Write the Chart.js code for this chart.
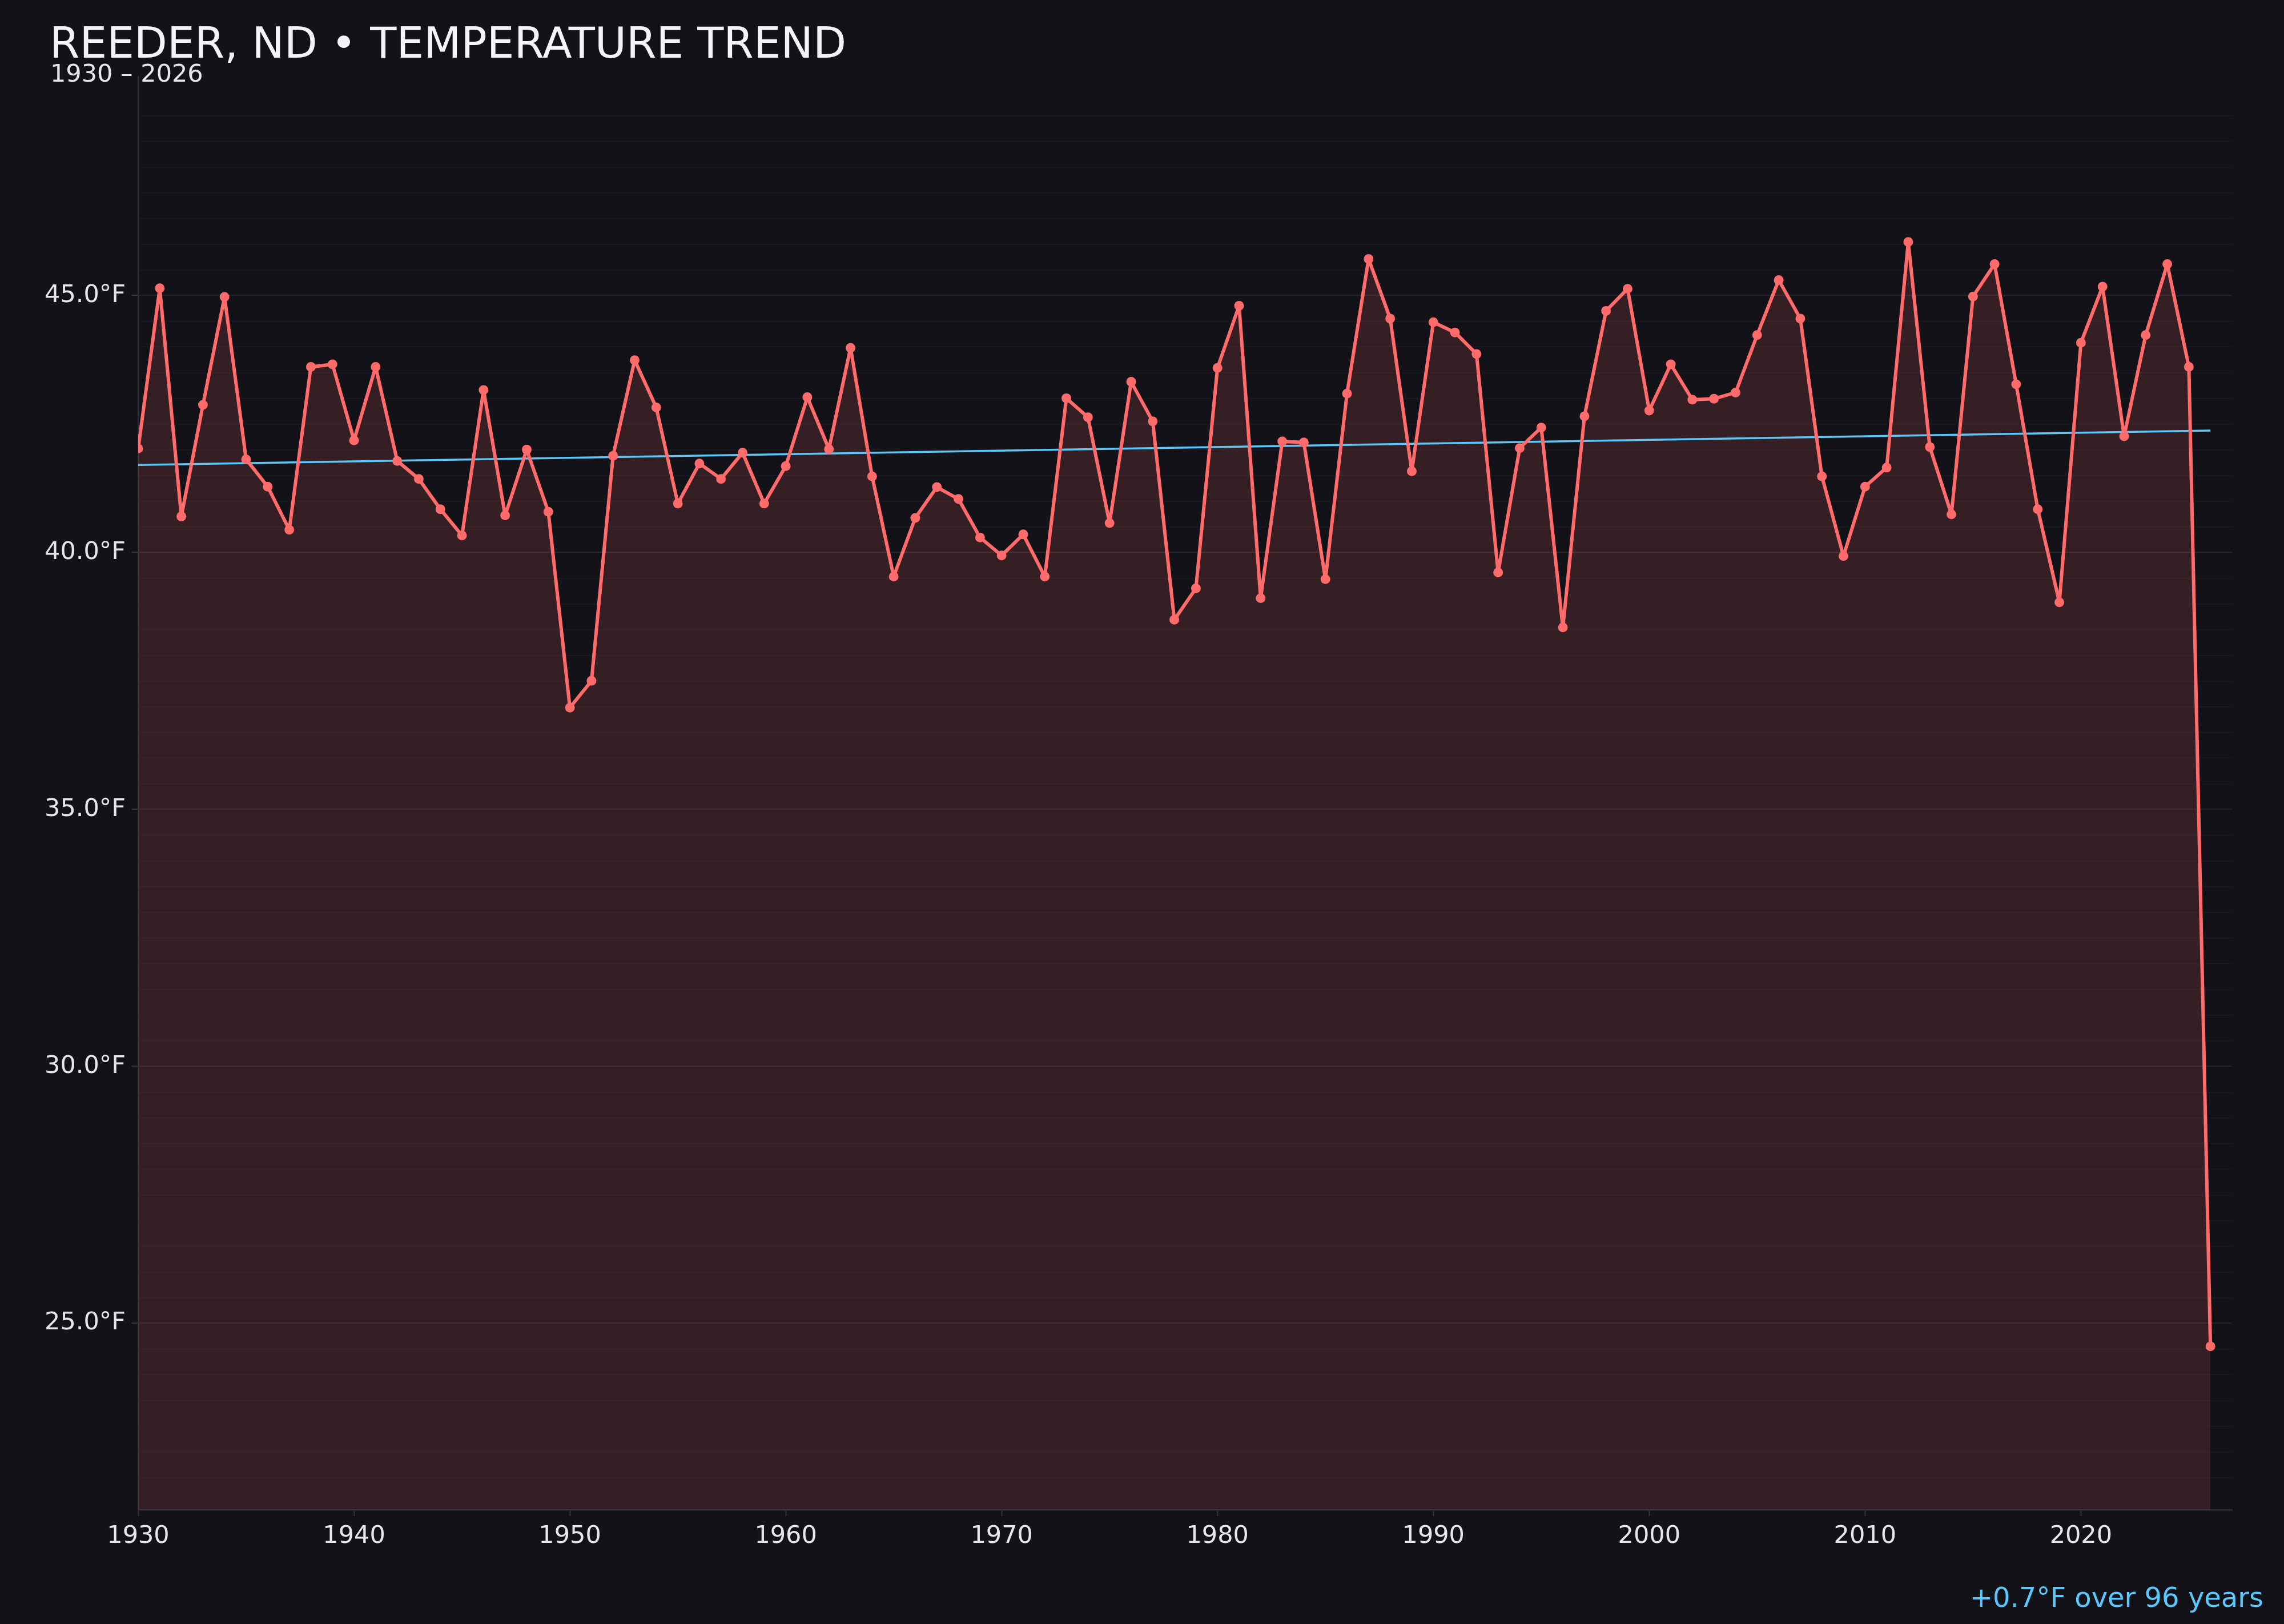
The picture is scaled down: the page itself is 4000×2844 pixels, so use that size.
<!DOCTYPE html>
<html>
<head>
<meta charset="utf-8">
<title>Reeder, ND temperature trend</title>
<script src="https://cdn.jsdelivr.net/npm/chart.js@4.4.1/dist/chart.umd.min.js"></script>
<style>
    html, body { margin: 0; padding: 0; background: #131218; }
    #wrap { width: 4000px; height: 2844px; }
</style>
</head>
<body>
<div id="wrap"><canvas id="chart" width="4000" height="2844"></canvas></div>
<script>
const years = [
    1930, 1931, 1932, 1933, 1934, 1935, 1936, 1937, 1938, 1939,
    1940, 1941, 1942, 1943, 1944, 1945, 1946, 1947, 1948, 1949,
    1950, 1951, 1952, 1953, 1954, 1955, 1956, 1957, 1958, 1959,
    1960, 1961, 1962, 1963, 1964, 1965, 1966, 1967, 1968, 1969,
    1970, 1971, 1972, 1973, 1974, 1975, 1976, 1977, 1978, 1979,
    1980, 1981, 1982, 1983, 1984, 1985, 1986, 1987, 1988, 1989,
    1990, 1991, 1992, 1993, 1994, 1995, 1996, 1997, 1998, 1999,
    2000, 2001, 2002, 2003, 2004, 2005, 2006, 2007, 2008, 2009,
    2010, 2011, 2012, 2013, 2014, 2015, 2016, 2017, 2018, 2019,
    2020, 2021, 2022, 2023, 2024, 2025, 2026
];

// annual mean temperature, °F
const temps = [
    42.02, 45.14, 40.70, 42.87, 44.97, 41.81, 41.28, 40.44, 43.61, 43.66,
    42.18, 43.61, 41.78, 41.43, 40.84, 40.33, 43.16, 40.72, 42.00, 40.79,
    36.98, 37.50, 41.88, 43.74, 42.82, 40.95, 41.73, 41.43, 41.94, 40.95,
    41.68, 43.02, 42.01, 43.98, 41.48, 39.53, 40.67, 41.27, 41.04, 40.29,
    39.94, 40.35, 39.53, 43.00, 42.63, 40.57, 43.32, 42.55, 38.69, 39.30,
    43.59, 44.80, 39.11, 42.16, 42.14, 39.48, 43.09, 45.71, 44.55, 41.58,
    44.48, 44.28, 43.86, 39.61, 42.03, 42.43, 38.54, 42.65, 44.70, 45.13,
    42.76, 43.66, 42.97, 42.99, 43.11, 44.23, 45.30, 44.55, 41.48, 39.93,
    41.28, 41.65, 46.04, 42.05, 40.74, 44.98, 45.61, 43.27, 40.84, 39.03,
    44.08, 45.17, 42.26, 44.23, 45.61, 43.61, 24.55
];

// linear trend, end points
const trendYears = [1930, 2026];
const trendValues = [41.70, 42.37];

const xTicks = [1930, 1940, 1950, 1960, 1970, 1980, 1990, 2000, 2010, 2020];
const yTicks = [25, 30, 35, 40, 45];

const titleText = 'REEDER, ND \u2022 TEMPERATURE TREND';
const subtitleText = '1930 \u2013 2026';
const footerText = '+0.7\u00B0F over 96 years';

const isMajor = (v) => yTicks.some(t => Math.abs(t - v) < 1e-6);

const textPlugin = {
    id: 'texts',
    beforeDraw(chart) {
        const ctx = chart.ctx;
        ctx.save();
        ctx.fillStyle = '#131218';
        ctx.fillRect(0, 0, chart.width, chart.height);
        ctx.restore();
    },
    afterDraw(chart) {
        const ctx = chart.ctx;
        ctx.save();
        ctx.textBaseline = 'alphabetic';
        ctx.textAlign = 'left';
        ctx.fillStyle = '#f4f4f7';
        ctx.font = '75.5px "DejaVu Sans"';
        ctx.fillText(titleText, 87, 101);
        ctx.fillStyle = '#e8e8ec';
        ctx.font = '43px "DejaVu Sans"';
        ctx.fillText(subtitleText, 88, 143);
        ctx.textAlign = 'right';
        ctx.fillStyle = '#5ac8fa';
        ctx.font = '48px "DejaVu Sans"';
        ctx.fillText(footerText, 3964, 2814);
        ctx.restore();
    }
};

Chart.defaults.font.family = '"DejaVu Sans"';

new Chart(document.getElementById('chart'), {
    type: 'line',
    data: {
        datasets: [{
            label: 'Temperature',
            data: years.map((y, i) => ({ x: y, y: temps[i] })),
            borderColor: '#ff6b6b',
            backgroundColor: 'rgba(255, 107, 107, 0.15)',
            borderWidth: 6,
            borderJoinStyle: 'round',
            borderCapStyle: 'round',
            pointRadius: 8.5,
            pointBorderWidth: 0,
            pointBackgroundColor: '#ff6b6b',
            fill: 'start',
            tension: 0
        }, {
            label: 'Trend',
            data: trendYears.map((y, i) => ({ x: y, y: trendValues[i] })),
            borderColor: '#5ac8fa',
            borderWidth: 3.5,
            pointRadius: 0,
            fill: false
        }]
    },
    options: {
        responsive: false,
        animation: false,
        devicePixelRatio: 1,
        layout: {
            padding: { top: 134, right: 91, bottom: 0, left: 0 }
        },
        plugins: {
            legend: { display: false },
            tooltip: { enabled: false },
            filler: { drawTime: 'beforeDatasetsDraw' }
        },
        scales: {
            x: {
                type: 'linear',
                min: 1930,
                max: 2027,
                afterBuildTicks: (scale) => {
                    scale.ticks = xTicks.map(v => ({ value: v }));
                },
                afterFit: (scale) => { scale.height = 200; },
                ticks: {
                    color: '#e6e6eb',
                    font: { size: 43 },
                    padding: 10,
                    autoSkip: false,
                    maxRotation: 0,
                    callback: (v) => String(v)
                },
                grid: {
                    drawOnChartArea: false,
                    tickLength: 11,
                    tickColor: '#34343c',
                    tickWidth: 2
                },
                border: { color: '#2e2e36', width: 2.5 }
            },
            y: {
                type: 'linear',
                min: 21.37,
                max: 49.26,
                afterBuildTicks: (scale) => {
                    const out = [];
                    for (const t of scale.ticks) {
                        const v = t.value;
                        if (v >= scale.min && v <= scale.max && Math.abs(v * 2 - Math.round(v * 2)) < 1e-6) {
                            out.push({ value: Math.round(v * 2) / 2 });
                        }
                    }
                    scale.ticks = out;
                },
                afterFit: (scale) => { scale.width = 242; },
                ticks: {
                    stepSize: 0.5,
                    autoSkip: false,
                    color: '#e6e6eb',
                    font: { size: 43 },
                    padding: 11,
                    callback: (v) => isMajor(v) ? v.toFixed(1) + '\u00B0F' : ''
                },
                grid: {
                    tickLength: 11,
                    color: (ctx) => isMajor(ctx.tick.value) ? 'rgba(255,255,255,0.08)' : 'rgba(255,255,255,0.03)',
                    lineWidth: (ctx) => isMajor(ctx.tick.value) ? 2 : 1.5,
                    tickColor: (ctx) => isMajor(ctx.tick.value) ? '#34343c' : 'rgba(0,0,0,0)',
                    tickWidth: 2
                },
                border: { color: '#2e2e36', width: 2.5 }
            }
        }
    },
    plugins: [textPlugin]
});
</script>
</body>
</html>
